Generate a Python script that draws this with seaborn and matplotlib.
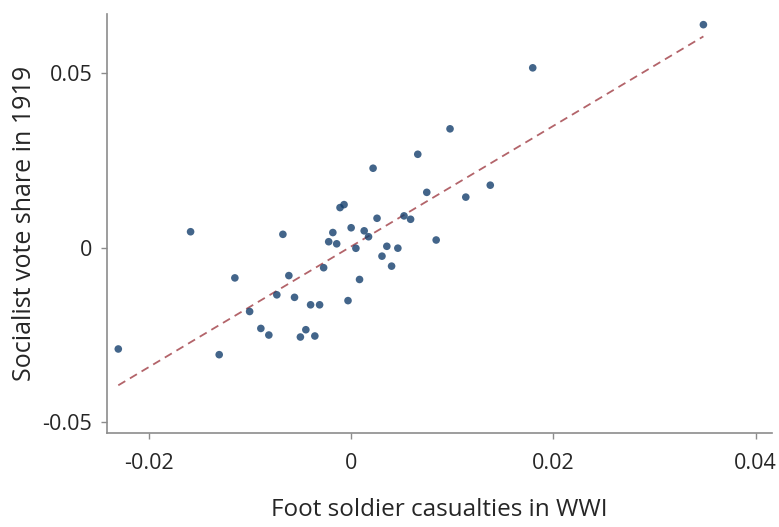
import matplotlib
matplotlib.use("Agg")
import matplotlib.pyplot as plt
import seaborn as sns
import numpy as np
import pandas as pd

casualties = [-0.02303, -0.01588, -0.01305, -0.01150, -0.01004, -0.00893, -0.00814,
              -0.00735, -0.00675, -0.00616, -0.00560, -0.00502, -0.00448, -0.00401,
              -0.00359, -0.00312, -0.00272, -0.00222, -0.00181, -0.00143, -0.00110,
              -0.00070, -0.00031, 0.00000, 0.00047, 0.00083, 0.00129, 0.00172,
              0.00217, 0.00256, 0.00305, 0.00353, 0.00400, 0.00462, 0.00523,
              0.00588, 0.00659, 0.00748, 0.00841, 0.00978, 0.01134, 0.01376,
              0.01796, 0.03484]
vote_share = [-0.02903, 0.00457, -0.03066, -0.00866, -0.01829, -0.02314, -0.02503,
              -0.01351, 0.00383, -0.00800, -0.01423, -0.02560, -0.02351, -0.01637,
              -0.02531, -0.01637, -0.00574, 0.00171, 0.00434, 0.00111, 0.01149,
              0.01234, -0.01517, 0.00571, -0.00017, -0.00911, 0.00483, 0.00314,
              0.02277, 0.00843, -0.00243, 0.00040, -0.00529, -0.00014, 0.00911,
              0.00814, 0.02677, 0.01586, 0.00220, 0.03406, 0.01449, 0.01791,
              0.05154, 0.06391]

x_ticks = [-0.02, 0, 0.02, 0.04]
x_tick_labels = ["-0.02", "0", "0.02", "0.04"]
y_ticks = [-0.05, 0, 0.05]
y_tick_labels = ["-0.05", "0", "0.05"]

df = pd.DataFrame({"casualties": casualties, "vote": vote_share})

sns.set_style("white")
plt.rcParams['font.family'] = ['Open Sans', 'DejaVu Sans']
plt.rcParams['axes.unicode_minus'] = False

fig = plt.figure(figsize=(7.79, 5.27), dpi=100)
ax = fig.add_axes([0.1377, 0.179, 0.853, 0.7944])

sns.regplot(data=df, x="casualties", y="vote", ax=ax, ci=None,
            scatter_kws=dict(s=30, color="#143f6d", edgecolor="none", zorder=3),
            line_kws=dict(color="#b3646a", lw=1.3, ls=(0, (4.5, 3)), zorder=2))

ax.set_xlim(-0.02412, 0.0416)
ax.set_ylim(-0.05301, 0.06696)
ax.set_xticks(x_ticks)
ax.set_xticklabels(x_tick_labels)
ax.set_yticks(y_ticks)
ax.set_yticklabels(y_tick_labels)

txt = "#262626"
ax.set_xlabel("Foot soldier casualties in WWI", fontsize=17.5, color=txt, labelpad=17)
ax.set_ylabel("Socialist vote share in 1919", fontsize=18, color=txt, labelpad=4)
ax.tick_params(axis="both", which="major", labelsize=15.5, labelcolor=txt,
               color="#8c8c8c", length=4.3, width=1, direction="out",
               bottom=True, left=True)
ax.tick_params(axis="x", pad=10.5)
ax.tick_params(axis="y", pad=6.5)

for side in ["top", "right"]:
    ax.spines[side].set_visible(False)
for side in ["left", "bottom"]:
    ax.spines[side].set_color("#8c8c8c")
    ax.spines[side].set_linewidth(1.2)

fig.savefig("out.png", dpi=100)
